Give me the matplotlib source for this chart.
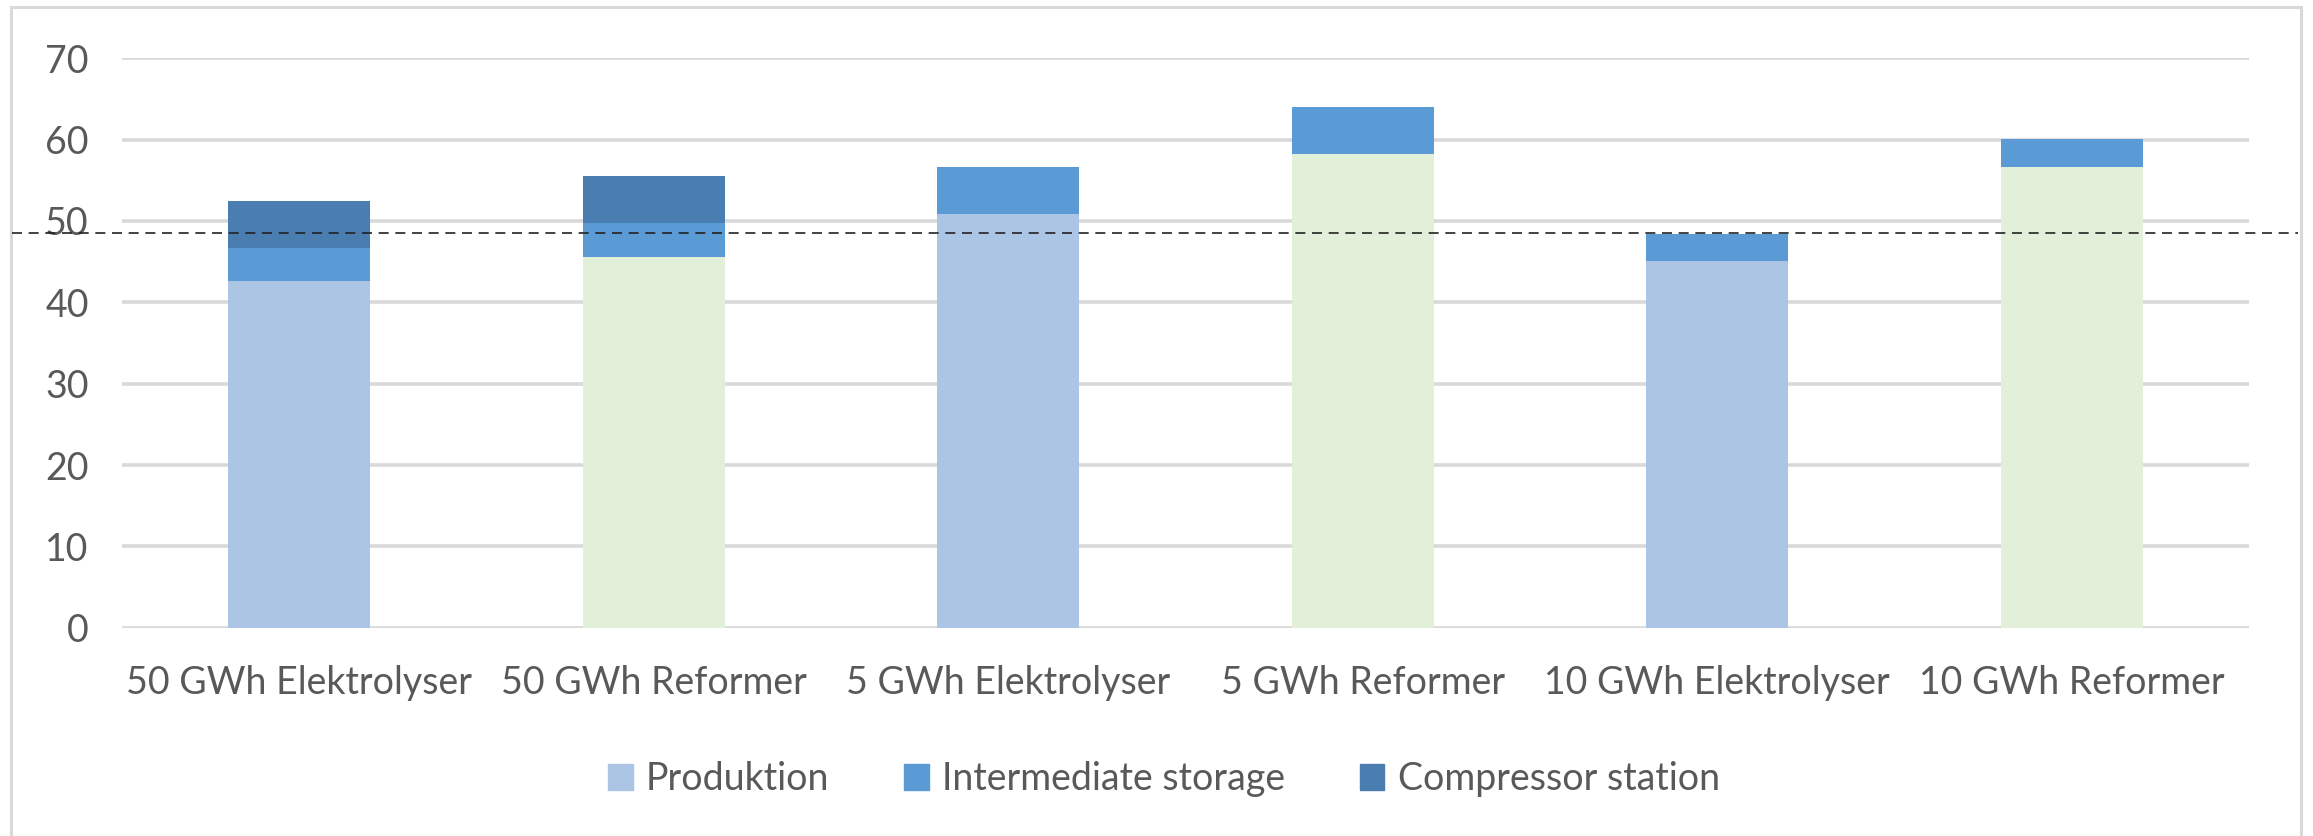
import matplotlib
matplotlib.use("Agg")
import matplotlib.pyplot as plt
from matplotlib.patches import Rectangle, Patch
import numpy as np

categories = ["50 GWh Elektrolyser", "50 GWh Reformer", "5 GWh Elektrolyser",
              "5 GWh Reformer", "10 GWh Elektrolyser", "10 GWh Reformer"]
produktion = [42.6, 45.6, 50.8, 58.2, 45.1, 56.6]
storage = [4.1, 4.2, 5.8, 5.8, 3.3, 3.5]
compressor = [5.8, 5.7, 0, 0, 0, 0]
reference_level = 48.5
yticks = [0, 10, 20, 30, 40, 50, 60, 70]

c_elek = "#adc5e5"
c_ref = "#e2efd9"
c_stor = "#5b9bd5"
c_comp = "#4a7eb0"
txt = "#595959"

plt.rcParams['font.family'] = ['Lato', 'DejaVu Sans']

W, H = 2313, 836
fig = plt.figure(figsize=(W / 100, H / 100), dpi=100)
ax = fig.add_axes([122 / W, 1 - 627.7 / H, (2249 - 122) / W, (627.7 - 58.3) / H])

x = np.arange(len(categories))
prod_colors = [c_elek if "Elektrolyser" in c else c_ref for c in categories]
bw = 0.4
ax.bar(x, produktion, bw, color=prod_colors, edgecolor="none", zorder=3)
ax.bar(x, storage, bw, bottom=produktion, color=c_stor, edgecolor="none", zorder=3)
bottom2 = np.array(produktion) + np.array(storage)
ax.bar(x, compressor, bw, bottom=bottom2, color=c_comp, edgecolor="none", zorder=3)

ax.set_xlim(-0.5, len(categories) - 0.5)
ax.set_ylim(0, 70)
ax.set_yticks(yticks)
ax.set_xticks(x)
ax.set_xticklabels(categories)
ax.tick_params(axis='both', length=0, labelsize=27, colors=txt)
ax.tick_params(axis='y', pad=24)
ax.tick_params(axis='x', pad=27)
ax.grid(axis='y', color="#d9d9d9", lw=2.6, zorder=0)
for s in ax.spines.values():
    s.set_visible(False)

# dashed reference line spanning the whole chart area
y_fig = ax.transData.transform((0, reference_level))[1] / H
fig.add_artist(plt.Line2D([12 / W, 2298 / W], [y_fig, y_fig], color="#222222",
                          lw=1.2, ls=(0, (6, 4)), zorder=10))

# chart border
fig.add_artist(Rectangle((11 / W, -0.05), (2301 - 11) / W, 1.05 - 7 / H,
                         transform=fig.transFigure, fill=False,
                         edgecolor="#d9d9d9", lw=2.2))

handles = [Patch(color=c_elek, label="Produktion"),
           Patch(color=c_stor, label="Intermediate storage"),
           Patch(color=c_comp, label="Compressor station")]
fig.legend(handles=handles, loc="center", bbox_to_anchor=(1164 / W, 1 - 779 / H),
           ncol=3, frameon=False, fontsize=27, labelcolor=txt,
           handlelength=0.65, handleheight=0.7, handletextpad=0.35, columnspacing=2.0)

fig.savefig("out.png", dpi=100)
